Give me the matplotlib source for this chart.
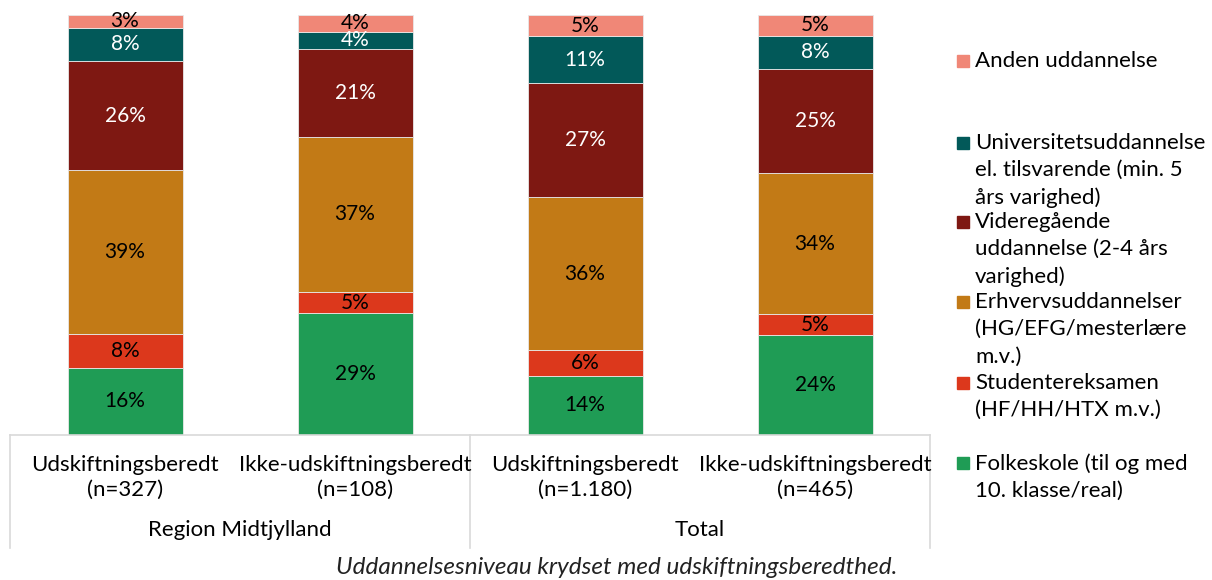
import matplotlib.pyplot as plt
from matplotlib.patches import Rectangle
import numpy as np

plt.rcParams['font.family'] = ['Lato', 'DejaVu Sans']

# Data
categories = ["Udskiftningsberedt\n(n=327)", "Ikke-udskiftningsberedt\n(n=108)",
              "Udskiftningsberedt\n(n=1.180)", "Ikke-udskiftningsberedt\n(n=465)"]
groups = ["Region Midtjylland", "Total"]

series_names = [
    "Folkeskole (til og med\n10. klasse/real)",
    "Studentereksamen\n(HF/HH/HTX m.v.)",
    "Erhvervsuddannelser\n(HG/EFG/mesterlære\nm.v.)",
    "Videregående\nuddannelse (2-4 års\nvarighed)",
    "Universitetsuddannelse\nel. tilsvarende (min. 5\nårs varighed)",
    "Anden uddannelse",
]
folkeskole = [16, 29, 14, 24]
student = [8, 5, 6, 5]
erhverv = [39, 37, 36, 34]
videregaaende = [26, 21, 27, 25]
universitet = [8, 4, 11, 8]
anden = [3, 4, 5, 5]

colors = ["#1F9C55", "#DC381C", "#C27A16", "#7E1812", "#025959", "#F08777"]
label_colors = ["black", "black", "black", "white", "white", "black"]

values = np.array([folkeskole, student, erhverv, videregaaende, universitet, anden], dtype=float)
shares = values / values.sum(axis=0) * 100  # 100% stacked

W, H = 1212, 580
fig = plt.figure(figsize=(W / 100, H / 100), dpi=100)
ax = fig.add_axes([10 / W, 1 - 435 / H, 920 / W, 420 / H])

x = np.arange(len(categories))
bottom = np.zeros(len(categories))
for i in range(len(series_names)):
    ax.bar(x, shares[i], 0.5, bottom=bottom, color=colors[i],
           edgecolor='#e8e8e8', linewidth=0.6)
    for j in range(len(categories)):
        ax.text(x[j], bottom[j] + shares[i][j] / 2, f"{int(values[i][j])}%",
                ha='center', va='center', fontsize=15, color=label_colors[i])
    bottom += shares[i]

ax.set_xlim(-0.5, 3.5)
ax.set_ylim(0, 100)
ax.set_xticks([])
ax.set_yticks([])
for s in ['top', 'right', 'left']:
    ax.spines[s].set_visible(False)
ax.spines['bottom'].set_color('#d9d9d9')
ax.spines['bottom'].set_linewidth(1.2)

trans = ax.get_xaxis_transform()
sep_bottom = -(548 - 435) / 420
for xs in [-0.5, 1.5, 3.5]:
    ax.plot([xs, xs], [0, sep_bottom], color='#d9d9d9', lw=1.2,
            transform=trans, clip_on=False)

for j, c in enumerate(categories):
    ax.text(x[j], -(455 - 435) / 420, c, transform=trans, ha='center', va='top',
            fontsize=16, linespacing=1.3)
for g, name in enumerate(groups):
    ax.text(0.5 + 2 * g, -(530 - 435) / 420, name, transform=trans,
            ha='center', va='center', fontsize=16)

fig.text(617 / W, 1 - 567 / H, "Uddannelsesniveau krydset med udskiftningsberedthed.",
         ha='center', va='center', fontsize=17.5, style='italic', color='#222222')

# Legend, top to bottom
legend_y = [61, 143, 222, 302, 383, 463]
order = list(range(len(series_names)))[::-1]
for k, i in enumerate(order):
    yc = 1 - legend_y[k] / H
    fig.patches.append(Rectangle((957 / W, yc - 6 / H), 12 / W, 12 / H,
                                 color=colors[i], transform=fig.transFigure))
    fig.text(975 / W, yc + 10 / H, series_names[i], ha='left', va='top',
             fontsize=16, linespacing=1.45)

fig.savefig("out.png", dpi=100)
